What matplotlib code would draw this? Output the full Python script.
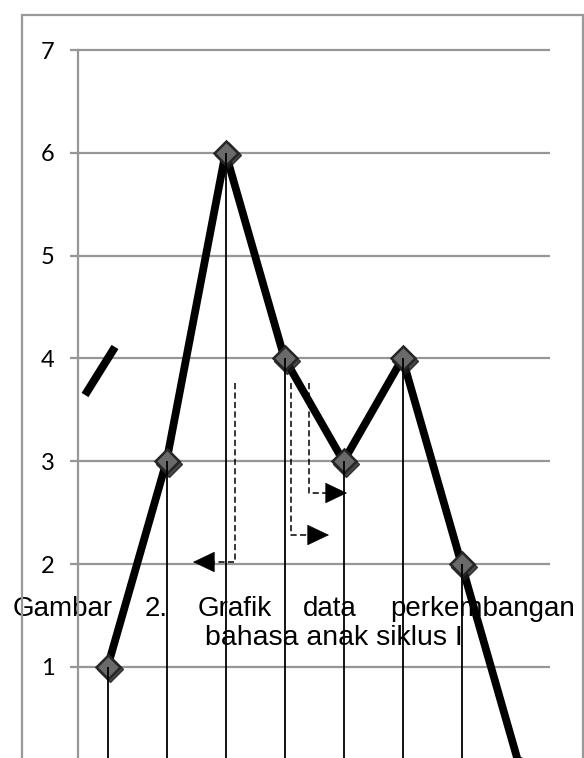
import matplotlib
matplotlib.use('Agg')
import matplotlib.pyplot as plt
import matplotlib.transforms as mtransforms
from matplotlib.patches import Rectangle

# data (8 categories, last one drops out of view)
cats = [0, 1, 2, 3, 4, 5, 6, 7]
values = [1, 3, 6, 4, 3, 4, 2, 0]
yticks = [1, 2, 3, 4, 5, 6, 7]

caption_words = ['Gambar', '2.', 'Grafik', 'data', 'perkembangan']
caption_line2 = 'bahasa anak siklus I'

W, H = 584, 758
fig = plt.figure(figsize=(W / 100, H / 100), dpi=100)


def px(x, y):
    """pixel position (from top left) -> figure fraction"""
    return x / W, 1 - y / H


# axes box: left 78px, right 550px, top 40px, bottom = figure bottom
ax = fig.add_axes([78 / W, 0, (550 - 78) / W, (H - 40) / H])
unit = 102.83  # pixels per y unit
ytop = 7 + 10 / unit
ybot = 1 - (H - 667) / unit
ax.set_ylim(ybot, ytop)
ax.set_xlim(-0.5, 7.5)

grid_col = '#969696'
ax.set_yticks(yticks)
ax.set_yticklabels([str(v) for v in yticks], fontsize=17, family=['Lato', 'DejaVu Sans'])
ax.tick_params(axis='y', length=6, width=1.6, color=grid_col, pad=11)
ax.set_xticks([])
ax.yaxis.grid(True, color=grid_col, lw=1.6)
ax.set_axisbelow(True)
for s in ['top', 'right', 'bottom']:
    ax.spines[s].set_visible(False)
ax.spines['left'].set_color(grid_col)
ax.spines['left'].set_linewidth(1.6)
ax.spines['left'].set_bounds(ybot, 7)

# main thick line
ax.plot(cats, values, color='black', lw=5.6, solid_capstyle='butt', zorder=3)

# diamond markers with a dark blurry shadow
shadow = mtransforms.offset_copy(ax.transData, fig=fig, x=2.5, y=-2.5, units='dots')
ax.plot(cats, values, 'D', ms=13, color='#1a1a1a', alpha=0.8, transform=shadow, zorder=4)
ax.plot(cats, values, 'D', ms=12, mfc='#6a6a6a', mec='#262626', mew=1.8, zorder=5)

# drop lines from each point down
ax.vlines(cats, ybot, values, colors='black', lw=1.3, zorder=6)

# stray slash on the left
ax.plot([-0.381, 0.127], [3.645, 4.112], color='black', lw=5.8,
        solid_capstyle='butt', clip_on=False, zorder=3)


# dashed arrows
def to_data(x, y):
    return (x - 107.5) / 59.0, 7 - (y - 50) / unit


arrows = [
    # (x of vertical, y start, y of turn, head base x, tip x)
    (235, 383, 562, 213, 193),
    (291, 383, 535, 309, 329),
    (309, 383, 493, 327, 347),
]
for xv, y0, y1, xb, xt in arrows:
    a = to_data(xv, y0)
    b = to_data(xv, y1)
    c = to_data(xb, y1)
    d = to_data(xt, y1)
    ax.plot([a[0], b[0], c[0]], [a[1], b[1], c[1]], color='black', lw=1.1,
            dashes=(4, 2.2), zorder=6)
    ax.annotate('', xy=d, xytext=c,
                arrowprops=dict(arrowstyle='-|>,head_length=1.05,head_width=0.5',
                                mutation_scale=14, color='black', lw=0.5,
                                shrinkA=0, shrinkB=0), zorder=6)

# caption (sits under the lines)
word_x = [13, 145, 198, 303, 390]
for w, x in zip(caption_words, word_x):
    ax.text(*px(x, 616), w, transform=fig.transFigure, fontsize=20,
            family='Liberation Sans', ha='left', va='baseline', zorder=1, clip_on=False)
ax.text(*px(205, 645), caption_line2, transform=fig.transFigure, fontsize=20.5,
        family='Liberation Sans', ha='left', va='baseline', zorder=1, clip_on=False)

# outer frame
x0, y0 = px(22, 15)
x1, _ = px(583, 15)
fig.patches.append(Rectangle((x0, -0.01), x1 - x0, y0 + 0.01, transform=fig.transFigure,
                             fill=False, edgecolor='#999999', lw=1.6, zorder=0))

fig.savefig('out.png', dpi=100)
